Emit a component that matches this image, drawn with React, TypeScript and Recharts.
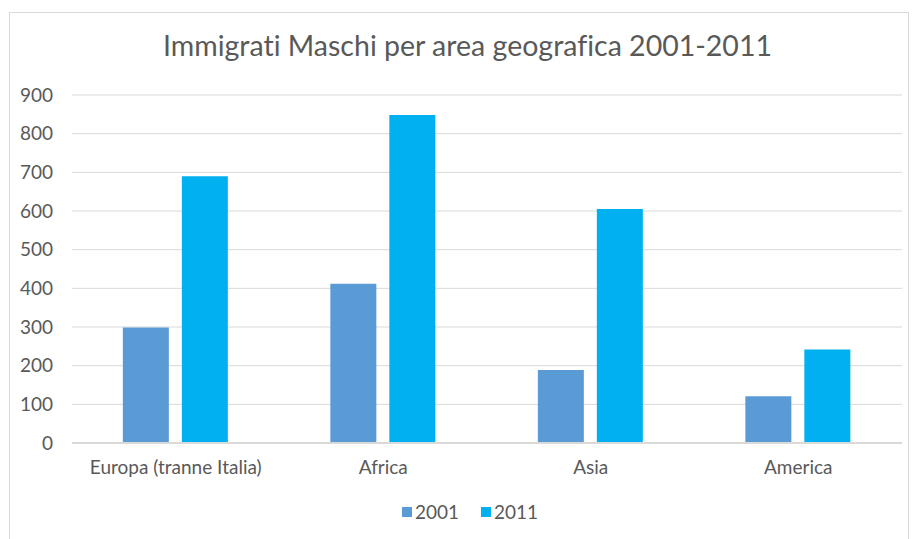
import React from 'react';
import {
  BarChart,
  Bar,
  XAxis,
  YAxis,
  CartesianGrid,
  Legend,
} from 'recharts';

const areas = ['Europa (tranne Italia)', 'Africa', 'Asia', 'America'];
const maschi2001 = [299, 412, 189, 121];
const maschi2011 = [690, 848, 605, 242];
const yTicks = [0, 100, 200, 300, 400, 500, 600, 700, 800, 900];

const COLOR_2001 = '#5B9BD5';
const COLOR_2011 = '#00B0F0';
const TEXT = '#595959';
const FONT = 'Lato, "Liberation Sans", sans-serif';

const data = areas.map((area, i) => ({
  area,
  y2001: maschi2001[i],
  y2011: maschi2011[i],
}));

// legend drawn by hand so the squares look like the Excel ones
const renderLegend = () => (
  <div
    style={{
      display: 'flex',
      justifyContent: 'center',
      gap: 22,
      fontFamily: FONT,
      fontSize: 19,
      color: TEXT,
      lineHeight: '22px',
    }}
  >
    {[
      { label: '2001', color: COLOR_2001 },
      { label: '2011', color: COLOR_2011 },
    ].map((item) => (
      <span key={item.label} style={{ display: 'flex', alignItems: 'center' }}>
        <span
          style={{
            width: 10,
            height: 10,
            background: item.color,
            display: 'inline-block',
            marginRight: 3,
          }}
        />
        {item.label}
      </span>
    ))}
  </div>
);

const App = () => {
  return (
    <div
      style={{
        position: 'absolute',
        left: 0,
        top: 0,
        width: 913,
        height: 539,
        background: '#fff',
        overflow: 'hidden',
        fontVariantLigatures: 'none',
      }}
    >
      {/* chart frame */}
      <div
        style={{
          position: 'absolute',
          left: 9,
          top: 12,
          width: 898,
          height: 560,
          border: '1px solid #d9d9d9',
        }}
      />
      <div
        style={{
          position: 'absolute',
          left: 0,
          top: 28,
          width: 935,
          textAlign: 'center',
          fontFamily: FONT,
          fontSize: 28.5,
          color: TEXT,
        }}
      >
        Immigrati Maschi per area geografica 2001-2011
      </div>
      <div style={{ position: 'absolute', left: 0, top: 0 }}>
        <BarChart
          width={913}
          height={539}
          data={data}
          margin={{ top: 95, right: 11, bottom: 34, left: 0 }}
          barCategoryGap="24.5%"
          barGap={13}
        >
          <CartesianGrid vertical={false} stroke="#d9d9d9" />
          <XAxis
            dataKey="area"
            axisLine={{ stroke: '#d9d9d9', strokeWidth: 2 }}
            tickLine={false}
            tick={{ fill: TEXT, fontSize: 19, fontFamily: FONT }}
            tickMargin={12}
            height={40}
            interval={0}
          />
          <YAxis
            width={72}
            domain={[0, 900]}
            ticks={yTicks}
            axisLine={false}
            tickLine={false}
            tickSize={0}
            tickMargin={19}
            tick={{ fill: TEXT, fontSize: 19, fontFamily: FONT }}
          />
          <Legend
            verticalAlign="bottom"
            content={renderLegend}
            wrapperStyle={{ left: 0, width: 940, bottom: 16 }}
          />
          <Bar dataKey="y2001" fill={COLOR_2001} isAnimationActive={false} />
          <Bar dataKey="y2011" fill={COLOR_2011} isAnimationActive={false} />
        </BarChart>
      </div>
    </div>
  );
};

export default App;
